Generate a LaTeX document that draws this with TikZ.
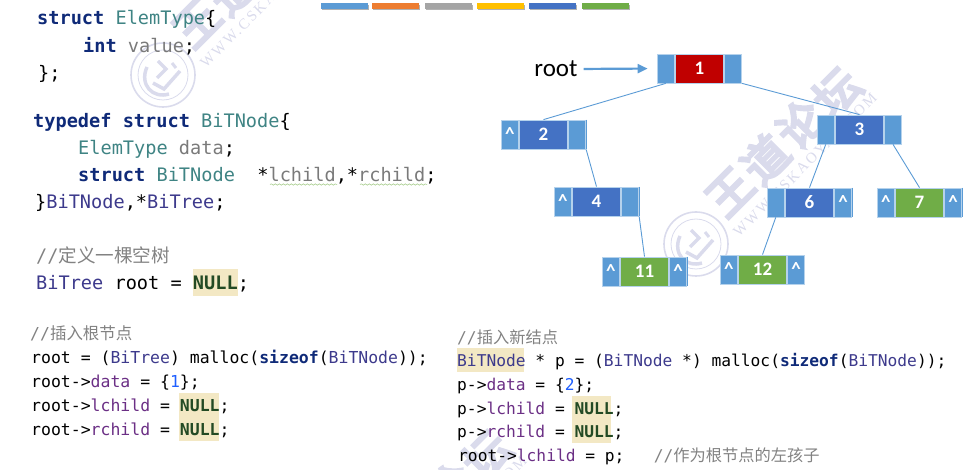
\documentclass[tikz,border=0pt]{standalone}
\usepackage{fontspec}
\setmainfont{Carlito}
\setmonofont{DejaVu Sans Mono}
\newfontfamily\cjkf{Noto Sans CJK SC}
\newfontfamily\wmcjk[FakeBold=6]{Noto Sans CJK SC}
\newfontfamily\wmserif[LetterSpace=14]{Liberation Serif}
\usetikzlibrary{arrows.meta,decorations.pathmorphing}
\definecolor{kw}{HTML}{0F2A78}
\definecolor{ty}{HTML}{3F8484}
\definecolor{vr}{HTML}{7A7A7A}
\definecolor{cl}{HTML}{3D3A8C}
\definecolor{fd}{HTML}{6B2F85}
\definecolor{nm}{HTML}{1F5FFF}
\definecolor{nl}{HTML}{234A24}
\definecolor{cm}{HTML}{828282}
\definecolor{hl}{HTML}{F3E8C4}
\definecolor{ptr}{HTML}{5B9BD5}
\definecolor{rednode}{HTML}{C00000}
\definecolor{bluenode}{HTML}{4472C4}
\definecolor{greennode}{HTML}{70AD47}
\definecolor{orangebar}{HTML}{ED7D31}
\definecolor{greybar}{HTML}{A5A5A5}
\definecolor{yellowbar}{HTML}{FFC000}
\definecolor{wmc}{HTML}{DADBEC}
\newcommand{\K}[1]{\textcolor{kw}{\bfseries #1}}
\newcommand{\T}[1]{\textcolor{ty}{#1}}
\newcommand{\V}[1]{\textcolor{vr}{#1}}
\newcommand{\C}[1]{\textcolor{cl}{#1}}
\newcommand{\F}[1]{\textcolor{fd}{#1}}
\newcommand{\N}[1]{\textcolor{nm}{#1}}
\newcommand{\NL}{\textcolor{nl}{\bfseries NULL}}
\tikzset{
  bigcode/.style={anchor=base west,inner sep=0pt,font=\ttfamily\fontsize{18.6}{20}\selectfont},
  smallcode/.style={anchor=base west,inner sep=0pt,font=\ttfamily\fontsize{16.47}{18}\selectfont},
  rightcode/.style={anchor=base west,inner sep=0pt,font=\ttfamily\fontsize{16.25}{18}\selectfont},
  bigcomment/.style={bigcode,text=cm},
  smallcomment/.style={smallcode,text=cm},
  rightcomment/.style={rightcode,text=cm},
  ptrcell/.style={draw=ptr!45,line width=.8pt,fill=ptr,minimum width=17.5pt,minimum height=29pt,inner sep=0pt,text=white,font=\bfseries\fontsize{19}{19}\selectfont},
  datacell/.style={ptrcell,minimum width=48pt},
  link/.style={draw=ptr,line width=.9pt},
  edgeline/.style={draw=ptr,line width=.7pt},
  wmglyph/.style={text=wmc,inner sep=0pt,font=\wmcjk\fontsize{45}{45}\selectfont},
}
\newcommand{\treenode}[7]{%
  \node[ptrcell] (#1l) at ({#2+8.75},{#3+14.5}) {#6};
  \node[datacell,fill=#4] (#1m) at ({#2+42.5},{#3+14.5}) {#5};
  \node[ptrcell] (#1r) at ({#2+76},{#3+14.5}) {#7};
}
\newcommand{\watermark}[3]{%
  \begin{scope}[shift={(#2,#3)}]
    \draw[wmc,line width=1.6pt] (0,0) circle[radius=32];
    \draw[wmc,line width=.8pt] (0,0) circle[radius=25];
    \draw[wmc,line width=3.5pt] (-16,-8) .. controls (-24,10) and (-10,24) .. (6,19);
    \draw[wmc,line width=3.5pt] (-10,8) -- (1,14) -- (17,-4);
    \draw[wmc,line width=3.5pt] (-5,-14) -- (3,-6) -- (-6,3);
    \draw[wmc,line width=3pt] (9,-12) -- (13,-7);
    \node[wmglyph,rotate=45] (#1a) at (34,-52) {王};
    \node[wmglyph,rotate=45] (#1b) at (69,-85) {道};
    \node[wmglyph,rotate=45] (#1c) at (104,-120) {论};
    \node[wmglyph,rotate=45] (#1d) at (141,-152) {坛};
    \node[text=wmc,inner sep=0pt,rotate=45,font=\wmserif\fontsize{15}{15}\selectfont] (#1w) at (109,-79) {WWW.CSKAOYAN.COM};
  \end{scope}
}
\begin{document}
\begin{tikzpicture}[x=1pt,y=-1pt]
\useasboundingbox (0,0) rectangle (970,470);
\clip (0,0) rectangle (970,470);
% watermarks
\watermark{wa}{163}{75}
\watermark{wb}{696}{244}
\watermark{wc}{346}{607}
\watermark{wd}{-182}{412}
% colour bars
\foreach \xa/\co in {321/ptr,372/orangebar,425/greybar,477/yellowbar,529/bluenode,582/greennode}{
  \fill[black!30] ({\xa+1},5) rectangle ({\xa+48},10.5);
  \fill[\co] (\xa,3) rectangle ({\xa+47},9);
}
% highlights
\fill[hl] (193,269) rectangle (238,296);
\fill[hl] (179,393) rectangle (219,441);
\fill[hl] (457,348) rectangle (524,372);
\fill[hl] (572,396) rectangle (611,443);
% wavy underlines
\draw[greennode!70,line width=.5pt,decorate,decoration={snake,segment length=4pt,amplitude=.7pt}] (270,184.5) -- (337,184.5);
\draw[greennode!70,line width=.5pt,decorate,decoration={snake,segment length=4pt,amplitude=.7pt}] (360,184.5) -- (427,184.5);
% code, top left
\node[bigcode] (c1) at (37,25) {\K{struct} \T{ElemType}\{};
\node[bigcode] (c2) at (83,53) {\K{int} \V{value};};
\node[bigcode] (c3) at (38,80) {\};};
\node[bigcode] (c4) at (33,127.5) {\K{typedef} \K{struct} \T{BiTNode}\{};
\node[bigcode] (c5) at (78,154.5) {\T{ElemType} \V{data};};
\node[bigcode] (c6) at (78,181.5) {\K{struct} \T{BiTNode}\ \ *\V{lchild},*\V{rchild};};
\node[bigcode] (c7) at (35,208.5) {\}\C{BiTNode},*\C{BiTree};};
\node[bigcomment] (c8) at (36,262.5) {//{\cjkf 定义一棵空树}};
\node[bigcode] (c9) at (36,289.5) {\C{BiTree} root = \NL;};
% code, bottom left
\node[smallcomment] (d1) at (30,340) {//{\cjkf 插入根节点}};
\node[smallcode] (d2) at (31,363.5) {root = (\C{BiTree}) malloc(\K{sizeof}(\C{BiTNode}));};
\node[smallcode] (d3) at (31,387.5) {root->\F{data} = \{\N{1}\};};
\node[smallcode] (d4) at (31,411.5) {root->\F{lchild} = \NL;};
\node[smallcode] (d5) at (31,435.5) {root->\F{rchild} = \NL;};
% code, bottom right
\node[rightcomment] (e1) at (457,343.5) {//{\cjkf 插入新结点}};
\node[rightcode] (e2) at (457,367) {\C{BiTNode} * p = (\C{BiTNode} *) malloc(\K{sizeof}(\C{BiTNode}));};
\node[rightcode] (e3) at (457,390.5) {p->\F{data} = \{\N{2}\};};
\node[rightcode] (e4) at (457,414.5) {p->\F{lchild} = \NL;};
\node[rightcode] (e5) at (457,438) {p->\F{rchild} = \NL;};
\node[rightcode] (e6) at (458,461.5) {root->\F{lchild} = p;\ \ \ \textcolor{cm}{//{\cjkf 作为根节点的左孩子}}};
% tree
\treenode{na}{657}{54}{rednode}{1}{}{}
\treenode{nb}{501}{120}{bluenode}{2}{\^{}}{}
\treenode{nc}{817}{115}{bluenode}{3}{}{}
\treenode{nd}{554}{187}{bluenode}{4}{\^{}}{}
\treenode{nf}{767}{188}{bluenode}{6}{}{\^{}}
\treenode{ng}{877}{188}{greennode}{7}{\^{}}{\^{}}
\treenode{nk}{602}{257}{greennode}{11}{\^{}}{\^{}}
\treenode{nm}{720}{255}{greennode}{12}{\^{}}{\^{}}
\foreach \cellname in {nbr,ndr,nfr,ngr,nkr}{
  \draw[edgeline] (\cellname.north east) -- (\cellname.south east);
}
\node[inner sep=0pt,font=\fontsize{25}{25}\selectfont] (rootlabel) at (556,69) {root};
\draw[ptr,line width=2.2pt,-{Triangle[length=10pt,width=9pt]},shorten <=6pt,shorten >=9pt] (rootlabel.east) -- (nal.west);
\draw[link] (nal.south) -- (nbm.north);
\draw[link] (nar.south east) -- (ncm.north);
\draw[link] (nbr.south east) -- (ndm.north);
\draw[link] (ncl.south) -- (nfm.north);
\draw[link] (ncr.south) -- (ngm.north);
\draw[link] (ndr.south east) -- (nkm.north);
\draw[link] (nfl.south) -- (nmm.north);
\end{tikzpicture}
\end{document}
